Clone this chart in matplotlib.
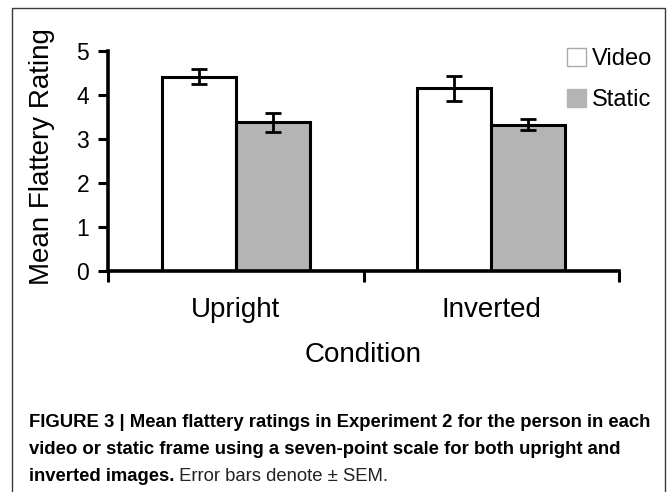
import matplotlib
matplotlib.use("Agg")
import numpy as np
import matplotlib.pyplot as plt
from matplotlib.patches import Patch, Rectangle

# values
conditions = ["Upright", "Inverted"]
video_mean = [4.42, 4.15]
video_sem = [0.175, 0.28]
static_mean = [3.38, 3.32]
static_sem = [0.22, 0.125]
series_names = ["Video", "Static"]

caption_bold = [
    "FIGURE 3 | Mean flattery ratings in Experiment 2 for the person in each",
    "video or static frame using a seven-point scale for both upright and",
    "inverted images.",
]
caption_rest = " Error bars denote \u00b1 SEM."

plt.rcParams["font.family"] = ["Liberation Sans", "DejaVu Sans"]

W, H = 669, 492
fig = plt.figure(figsize=(W / 100, H / 100), dpi=100)
ax = fig.add_axes([108 / W, 1 - 271 / H, (619 - 108) / W, 220 / H])

x = np.arange(len(conditions)) + 0.5
bw = 0.29
ax.bar(x - bw / 2, video_mean, bw, color="white", edgecolor="black", linewidth=2.2, zorder=2)
ax.bar(x + bw / 2, static_mean, bw, color="#b4b4b4", edgecolor="black", linewidth=2.2, zorder=2)
ax.errorbar(x - bw / 2, video_mean, yerr=video_sem, fmt="none", ecolor="black",
            elinewidth=2, capsize=5.8, capthick=2, zorder=3)
ax.errorbar(x + bw / 2, static_mean, yerr=static_sem, fmt="none", ecolor="black",
            elinewidth=2, capsize=5.8, capthick=2, zorder=3)

ax.set_xlim(0, 2)
ax.set_ylim(0, 5)
for s in ["top", "right"]:
    ax.spines[s].set_visible(False)
for s in ["left", "bottom"]:
    ax.spines[s].set_linewidth(2.6)

ax.set_yticks(range(6))
ax.tick_params(axis="y", length=7.5, width=2.2, pad=6, labelsize=16.5)
ax.set_xticks([0, 1, 2])
ax.set_xticklabels([])
ax.tick_params(axis="x", which="major", length=8, width=2.2)
ax.set_xticks(x, minor=True)
ax.set_xticklabels(conditions, minor=True)
ax.tick_params(axis="x", which="minor", length=0, pad=19, labelsize=20)

ax.set_ylabel("Mean Flattery Rating", fontsize=20, va="center")
ax.yaxis.set_label_coords((42 - 108) / 511, (271 - 157) / 220)
ax.set_xlabel("Condition", fontsize=20)
ax.xaxis.set_label_coords(0.5, (271 - 342) / 220)

handles = [Patch(facecolor="white", edgecolor="#aaaaaa", linewidth=1),
           Patch(facecolor="#b4b4b4", edgecolor="#b4b4b4", linewidth=1)]
ax.legend(handles, series_names, loc="upper left",
          bbox_to_anchor=(567 / W, 1 - 48 / H), bbox_transform=fig.transFigure,
          frameon=False, fontsize=17, handlelength=0.8, handleheight=0.8,
          handletextpad=0.25, labelspacing=0.8, borderpad=0, borderaxespad=0)

# frame around the figure panel
fig.add_artist(Rectangle((12 / W, -0.05), (665 - 12) / W, 1.05 - 8 / H, fill=False,
                         edgecolor="#3a3a3a", linewidth=1, transform=fig.transFigure))

# caption, bold, fitted to the original line width
cap_font = ["Liberation Sans Narrow", "Liberation Sans", "DejaVu Sans"]
baselines = [427, 454, 481]
r = fig.canvas.get_renderer()
t0 = fig.text(29 / W, 1 - baselines[0] / H, caption_bold[0], family=cap_font,
              weight="bold", fontsize=12, va="baseline")
w0 = t0.get_window_extent(r).width
fs = 12 * 620 / w0
t0.set_fontsize(fs)
t1 = fig.text(29 / W, 1 - baselines[1] / H, caption_bold[1], family=cap_font,
              weight="bold", fontsize=fs, va="baseline")
t2 = fig.text(29 / W, 1 - baselines[2] / H, caption_bold[2], family=cap_font,
              weight="bold", fontsize=fs, va="baseline")
ext = t2.get_window_extent(r)
fig.text(ext.x1 / W, 1 - baselines[2] / H, caption_rest, family=cap_font,
         fontsize=fs, va="baseline", color="#222222")

fig.savefig("out.png", dpi=100)
